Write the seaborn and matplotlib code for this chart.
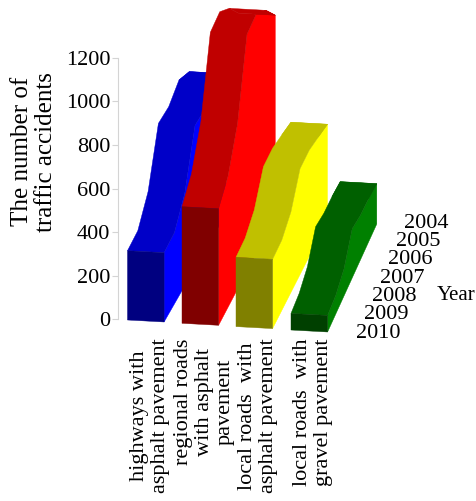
import matplotlib
matplotlib.use('Agg')
import matplotlib.pyplot as plt
import seaborn as sns

# values, one list per road type, 2004 -> 2010
years = ['2004', '2005', '2006', '2007', '2008', '2009', '2010']
highways = [644, 688, 648, 654, 424, 327, 318]
regional = [927, 1032, 1099, 1087, 760, 602, 535]
local_asphalt = [442, 466, 488, 486, 370, 323, 318]
local_gravel = [185, 199, 205, 226, 125, 86, 76]

road_types = ['highways with\nasphalt pavement',
              'regional roads\nwith asphalt\npavement',
              'local roads  with\nasphalt pavement',
              'local roads  with\ngravel pavement']
series = [highways, regional, local_asphalt, local_gravel]

# front, top and side shades of each band
front_colors = ['#000080', '#800000', '#808000', '#004000']
top_colors = ['#0000c8', '#c00000', '#c0c000', '#006000']
side_colors = ['#0000ff', '#ff0000', '#ffff00', '#008000']

sns.set_theme(style='white')
plt.rcParams['font.family'] = ['Liberation Serif', 'DejaVu Sans']
plt.rcParams['text.color'] = 'black'

W, H = 477, 501
fig = plt.figure(figsize=(W / 100, H / 100), dpi=100)
ax = fig.add_axes([118 / W, 1 - 319.3 / H, (W - 118) / W, (319.3 - 57.7) / H])
ax.set_xlim(118, W)
ax.set_ylim(0, 1200)

px_per_unit = (319.3 - 57.7) / 1200

# oblique look: each band starts further right and lower, years step back
band_x = [127.5, 182, 236, 291]
band_drop = [0.7, 4, 7.3, 10.7]
band_dx = [10.3, 9.45, 9.15, 8.2]
band_w = 36.6
band_tilt = 2.0
year_dy = 18.0


def project(band, step, across, value):
    x = band_x[band] + step * band_dx[band] + across * band_w
    y = value + (step * year_dy - band_drop[band] - across * band_tilt) / px_per_unit
    return x, y


def face(points, color):
    xs, ys = zip(*points)
    ax.fill(xs, ys, color=color, lw=0.3, clip_on=False)


for b, vals in enumerate(series):
    front_first = vals[::-1]
    steps = range(len(front_first))
    right_edge = [project(b, s, 1, front_first[s]) for s in steps]
    left_edge = [project(b, s, 0, front_first[s]) for s in steps]
    # side, then top surface, then the 2010 front
    face([project(b, 0, 1, 0), project(b, steps[-1], 1, 0)] + right_edge[::-1], side_colors[b])
    face(left_edge + right_edge[::-1], top_colors[b])
    # last strip folds back on itself when 2004 is below 2005
    face([left_edge[-2], right_edge[-2], right_edge[-1], left_edge[-1]], top_colors[b])
    v = front_first[0]
    face([project(b, 0, 0, 0), project(b, 0, 1, 0),
          project(b, 0, 1, v), project(b, 0, 0, v)], front_colors[b])

# axes
sns.despine(ax=ax, left=False, bottom=True)
ax.spines['left'].set_color('#d4d4d4')
ax.spines['left'].set_linewidth(0.8)
ax.set_yticks([0, 200, 400, 600, 800, 1000, 1200])
ax.tick_params(axis='y', length=4, width=0.8, color='#d4d4d4', pad=1.5,
               labelsize=16, labelcolor='black', left=True)

label_x = [band_x[b] + band_w / 2 + 4 for b in range(4)]
ax.set_xticks(label_x)
ax.set_xticklabels(road_types, rotation=90, va='top', ha='center', fontsize=16,
                   linespacing=1.14, color='black')
ax.tick_params(axis='x', length=0, pad=14)

ax.set_ylabel('The number of\ntraffic accidents', fontsize=18, linespacing=1.1, color='black')
ax.yaxis.set_label_coords(57, 769, transform=ax.transData)

# year labels run back along the depth direction
for s, yr in enumerate(years[::-1]):
    ax.text(356 + s * 8, (319.3 - 333 + s * 18.3) / px_per_unit, yr,
            fontsize=16, ha='left', va='center', clip_on=False)
ax.text(437, (319.3 - 295) / px_per_unit, 'Year', fontsize=15, ha='left', va='center')

fig.savefig('out.png', dpi=100)
